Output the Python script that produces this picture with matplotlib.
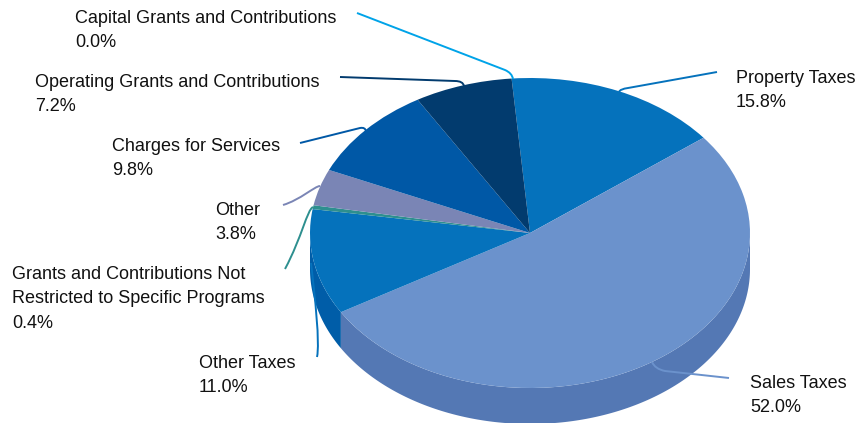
import matplotlib
matplotlib.use('Agg')
import matplotlib.pyplot as plt
import numpy as np
from matplotlib.path import Path
from matplotlib.patches import PathPatch

plt.rcParams['font.family'] = ['Liberation Sans', 'DejaVu Sans']

names = ['Property Taxes', 'Sales Taxes', 'Other Taxes',
         'Grants and Contributions Not\nRestricted to Specific Programs',
         'Other', 'Charges for Services',
         'Operating Grants and Contributions', 'Capital Grants and Contributions']
shares = [15.8, 52.0, 11.0, 0.4, 3.8, 9.8, 7.2, 0.0]
top_colors = ['#0572BC', '#6B92CC', '#0572BC', '#2D8F8F', '#7A85B5', '#0058A6', '#023B6E', '#00A3E8']
rim_colors = ['#05599A', '#5478B4', '#005DA8', '#23706F', '#5F688F', '#004683', '#012E57', '#0080B8']

# label anchors and leader lines are in figure pixels
label_pos = [(736, 70), (750, 375), (199, 355), (12, 266), (215, 202), (112, 138), (35, 74), (75, 10)]
leaders = [
    [(717, 72), (628, 88), (620, 89), (619, 92)],
    [(729, 378), (665, 371), (655, 369), (652, 362)],
    [(317, 357), (320, 343), (315, 297), (311, 263)],
    [(285, 269), (302, 237), (307, 210), (313, 207)],
    [(283, 205), (300, 200), (315, 186), (320, 186)],
    [(300, 143), (360, 128), (365, 127), (366, 131)],
    [(340, 77), (455, 81), (463, 81), (464, 86)],
    [(357, 13), (505, 70), (512, 73), (513, 79)],
]

W, H = 856, 423
cx, cy, rx, ry, depth = 530, 233, 220, 155, 36
start = 94.8

fig = plt.figure(figsize=(W / 100, H / 100), dpi=100)

# pie lives in unit coordinates, stretched to an ellipse by the axes limits
ax = fig.add_axes([0, 0, 1, 1])
ax.pie(shares, colors=top_colors, startangle=start, counterclock=False, radius=1,
       wedgeprops={'linewidth': 0}, normalize=True)
ax.set_aspect('auto')
ax.set_xlim(-cx / rx, (W - cx) / rx)
ax.set_ylim(-(H - cy) / ry, cy / ry)

# rim under the front half
d = depth / ry
edges = start - np.cumsum([0] + shares) * 3.6
for a0, a1, c in zip(edges[:-1], edges[1:], rim_colors):
    # keep only what faces the viewer (180..360 deg)
    lo = min(a0, a1) % 360
    hi = lo + abs(a0 - a1)
    if max(lo, 180) >= min(hi, 360):
        continue
    t = np.radians(np.linspace(max(lo, 180), min(hi, 360), 200))
    xs = np.r_[np.cos(t), np.cos(t[::-1])]
    ys = np.r_[np.sin(t), np.sin(t[::-1]) - d]
    ax.fill(xs, ys, color=c, lw=0, zorder=0.5)

# overlay in pixels for labels and leaders
ov = fig.add_axes([0, 0, 1, 1])
ov.set_xlim(0, W)
ov.set_ylim(H, 0)
ov.axis('off')
ov.patch.set_alpha(0)

for i, (name, share, pos, pts, c) in enumerate(zip(names, shares, label_pos, leaders, top_colors)):
    ov.text(pos[0], pos[1], f'{name}\n{share:.1f}%', ha='left', va='top',
            fontsize=13, color='#111111', linespacing=1.57)
    codes = [Path.MOVETO, Path.LINETO, Path.CURVE3, Path.CURVE3]
    if i in (2, 3, 4):
        codes = [Path.MOVETO, Path.CURVE4, Path.CURVE4, Path.CURVE4]
    ov.add_patch(PathPatch(Path(pts, codes), fc='none', ec=c, lw=1.4))

fig.savefig('out.png', dpi=100)
